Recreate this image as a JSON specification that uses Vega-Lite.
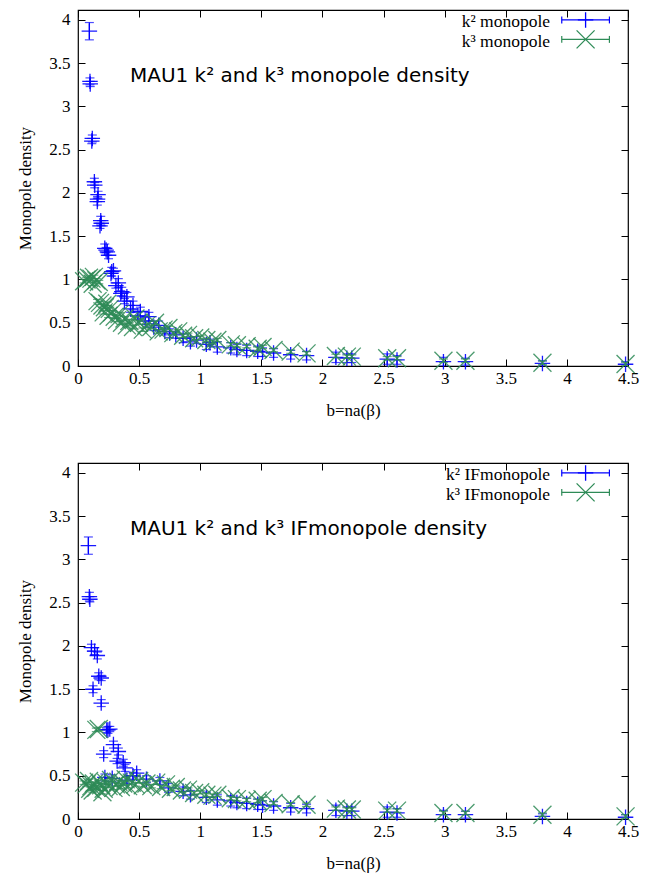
{
"$schema": "https://vega.github.io/schema/vega-lite/v6.json",
"background": "white",
"padding": {"left": 16, "top": 8, "right": 10, "bottom": 10},
"spacing": 97,
"bounds": "flush",
"config": {
  "font": "Liberation Serif",
  "view": {"stroke": "black", "strokeWidth": 1.2},
  "style": {"guide-label": {"font": "Liberation Serif", "fontSize": 17}, "guide-title": {"font": "Liberation Serif", "fontSize": 17, "fontWeight": "normal"}},
  "axis": {"grid": false, "domain": false, "tickColor": "black", "tickSize": -7, "tickWidth": 1, "labelFont": "Liberation Serif", "labelFontSize": 17, "labelColor": "black", "labelFlush": false, "labelOverlap": false, "titleFont": "Liberation Serif", "titleFontSize": 17, "titleFontWeight": "normal", "titleColor": "black"}
},
"datasets": {
 "pts": [
{"p":1,"s":"k2","b":0.093,"d":3.87,"e":0.10},{"p":1,"s":"k2","b":0.098,"d":3.29,"e":0.04},{"p":1,"s":"k2","b":0.10,"d":3.26,"e":0.03},{"p":1,"s":"k2","b":0.117,"d":2.63,"e":0.04},{"p":1,"s":"k2","b":0.113,"d":2.60,"e":0.03},{"p":1,"s":"k2","b":0.134,"d":2.13,"e":0.04},{"p":1,"s":"k2","b":0.137,"d":2.09,"e":0.03},{"p":1,"s":"k2","b":0.164,"d":1.98,"e":0.04},{"p":1,"s":"k2","b":0.158,"d":1.90,"e":0.04},{"p":1,"s":"k2","b":0.16,"d":1.93,"e":0.03},{"p":1,"s":"k2","b":0.186,"d":1.68,"e":0.05},{"p":1,"s":"k2","b":0.18,"d":1.62,"e":0.03},{"p":1,"s":"k2","b":0.19,"d":1.65,"e":0.03},{"p":1,"s":"k2","b":0.219,"d":1.36,"e":0.05},{"p":1,"s":"k2","b":0.24,"d":1.32,"e":0.04},{"p":1,"s":"k2","b":0.25,"d":1.28,"e":0.04},{"p":1,"s":"k2","b":0.23,"d":1.34,"e":0.03},{"p":1,"s":"k2","b":0.276,"d":1.09,"e":0.05},{"p":1,"s":"k2","b":0.27,"d":1.07,"e":0.03},{"p":1,"s":"k2","b":0.29,"d":1.10,"e":0.03},{"p":1,"s":"k2","b":0.33,"d":0.96,"e":0.05},{"p":1,"s":"k2","b":0.31,"d":0.93,"e":0.03},{"p":1,"s":"k2","b":0.358,"d":0.86,"e":0.05},{"p":1,"s":"k2","b":0.35,"d":0.84,"e":0.03},{"p":1,"s":"k2","b":0.40,"d":0.80,"e":0.05},{"p":1,"s":"k2","b":0.38,"d":0.75,"e":0.03},{"p":1,"s":"k2","b":0.45,"d":0.70,"e":0.05},{"p":1,"s":"k2","b":0.43,"d":0.66,"e":0.04},{"p":1,"s":"k2","b":0.51,"d":0.63,"e":0.05},{"p":1,"s":"k2","b":0.49,"d":0.58,"e":0.04},{"p":1,"s":"k2","b":0.58,"d":0.57,"e":0.05},{"p":1,"s":"k2","b":0.55,"d":0.52,"e":0.04},{"p":1,"s":"k2","b":0.66,"d":0.47,"e":0.05},{"p":1,"s":"k2","b":0.62,"d":0.45,"e":0.04},{"p":1,"s":"k2","b":0.75,"d":0.38,"e":0.05},{"p":1,"s":"k2","b":0.71,"d":0.40,"e":0.04},{"p":1,"s":"k2","b":0.80,"d":0.36,"e":0.04},{"p":1,"s":"k2","b":0.86,"d":0.32,"e":0.05},{"p":1,"s":"k2","b":0.92,"d":0.28,"e":0.05},{"p":1,"s":"k2","b":0.97,"d":0.30,"e":0.04},{"p":1,"s":"k2","b":1.05,"d":0.25,"e":0.06},{"p":1,"s":"k2","b":1.08,"d":0.27,"e":0.04},{"p":1,"s":"k2","b":1.14,"d":0.22,"e":0.06},{"p":1,"s":"k2","b":1.25,"d":0.21,"e":0.06},{"p":1,"s":"k2","b":1.30,"d":0.19,"e":0.06},{"p":1,"s":"k2","b":1.38,"d":0.18,"e":0.06},{"p":1,"s":"k2","b":1.47,"d":0.17,"e":0.06},{"p":1,"s":"k2","b":1.51,"d":0.16,"e":0.05},{"p":1,"s":"k2","b":1.60,"d":0.15,"e":0.05},{"p":1,"s":"k2","b":1.74,"d":0.13,"e":0.05},{"p":1,"s":"k2","b":1.87,"d":0.12,"e":0.05},{"p":1,"s":"k2","b":2.11,"d":0.10,"e":0.06},{"p":1,"s":"k2","b":2.20,"d":0.09,"e":0.05},{"p":1,"s":"k2","b":2.24,"d":0.09,"e":0.05},{"p":1,"s":"k2","b":2.53,"d":0.08,"e":0.06},{"p":1,"s":"k2","b":2.61,"d":0.07,"e":0.05},{"p":1,"s":"k2","b":2.99,"d":0.05,"e":0.05},{"p":1,"s":"k2","b":3.17,"d":0.05,"e":0.04},{"p":1,"s":"k2","b":3.80,"d":0.03,"e":0.03},{"p":1,"s":"k2","b":4.48,"d":0.02,"e":0.03},
{"p":1,"s":"k3","b":0.05,"d":0.98,"e":0.02},{"p":1,"s":"k3","b":0.07,"d":1.00,"e":0.02},{"p":1,"s":"k3","b":0.09,"d":1.02,"e":0.02},{"p":1,"s":"k3","b":0.11,"d":1.01,"e":0.02},{"p":1,"s":"k3","b":0.13,"d":1.03,"e":0.02},{"p":1,"s":"k3","b":0.15,"d":0.99,"e":0.02},{"p":1,"s":"k3","b":0.17,"d":0.97,"e":0.02},{"p":1,"s":"k3","b":0.12,"d":0.95,"e":0.02},{"p":1,"s":"k3","b":0.16,"d":0.75,"e":0.02},{"p":1,"s":"k3","b":0.18,"d":0.73,"e":0.02},{"p":1,"s":"k3","b":0.20,"d":0.70,"e":0.02},{"p":1,"s":"k3","b":0.22,"d":0.68,"e":0.02},{"p":1,"s":"k3","b":0.24,"d":0.72,"e":0.02},{"p":1,"s":"k3","b":0.26,"d":0.66,"e":0.02},{"p":1,"s":"k3","b":0.28,"d":0.62,"e":0.02},{"p":1,"s":"k3","b":0.21,"d":0.62,"e":0.02},{"p":1,"s":"k3","b":0.25,"d":0.58,"e":0.02},{"p":1,"s":"k3","b":0.30,"d":0.57,"e":0.02},{"p":1,"s":"k3","b":0.32,"d":0.53,"e":0.02},{"p":1,"s":"k3","b":0.34,"d":0.60,"e":0.02},{"p":1,"s":"k3","b":0.36,"d":0.50,"e":0.02},{"p":1,"s":"k3","b":0.38,"d":0.55,"e":0.02},{"p":1,"s":"k3","b":0.40,"d":0.47,"e":0.02},{"p":1,"s":"k3","b":0.42,"d":0.52,"e":0.02},{"p":1,"s":"k3","b":0.45,"d":0.45,"e":0.02},{"p":1,"s":"k3","b":0.47,"d":0.55,"e":0.02},{"p":1,"s":"k3","b":0.50,"d":0.50,"e":0.02},{"p":1,"s":"k3","b":0.53,"d":0.42,"e":0.02},{"p":1,"s":"k3","b":0.56,"d":0.47,"e":0.02},{"p":1,"s":"k3","b":0.60,"d":0.45,"e":0.02},{"p":1,"s":"k3","b":0.63,"d":0.50,"e":0.02},{"p":1,"s":"k3","b":0.66,"d":0.40,"e":0.02},{"p":1,"s":"k3","b":0.70,"d":0.42,"e":0.02},{"p":1,"s":"k3","b":0.74,"d":0.44,"e":0.02},{"p":1,"s":"k3","b":0.78,"d":0.38,"e":0.02},{"p":1,"s":"k3","b":0.82,"d":0.40,"e":0.02},{"p":1,"s":"k3","b":0.86,"d":0.35,"e":0.02},{"p":1,"s":"k3","b":0.90,"d":0.36,"e":0.02},{"p":1,"s":"k3","b":0.95,"d":0.32,"e":0.02},{"p":1,"s":"k3","b":1.00,"d":0.33,"e":0.02},{"p":1,"s":"k3","b":1.05,"d":0.30,"e":0.02},{"p":1,"s":"k3","b":1.10,"d":0.28,"e":0.02},{"p":1,"s":"k3","b":1.14,"d":0.30,"e":0.02},{"p":1,"s":"k3","b":1.25,"d":0.25,"e":0.02},{"p":1,"s":"k3","b":1.30,"d":0.24,"e":0.02},{"p":1,"s":"k3","b":1.38,"d":0.23,"e":0.02},{"p":1,"s":"k3","b":1.47,"d":0.20,"e":0.02},{"p":1,"s":"k3","b":1.51,"d":0.22,"e":0.02},{"p":1,"s":"k3","b":1.60,"d":0.185,"e":0.02},{"p":1,"s":"k3","b":1.74,"d":0.166,"e":0.02},{"p":1,"s":"k3","b":1.87,"d":0.146,"e":0.02},{"p":1,"s":"k3","b":2.11,"d":0.116,"e":0.02},{"p":1,"s":"k3","b":2.20,"d":0.108,"e":0.02},{"p":1,"s":"k3","b":2.24,"d":0.108,"e":0.02},{"p":1,"s":"k3","b":2.53,"d":0.089,"e":0.02},{"p":1,"s":"k3","b":2.61,"d":0.089,"e":0.02},{"p":1,"s":"k3","b":2.99,"d":0.061,"e":0.02},{"p":1,"s":"k3","b":3.17,"d":0.061,"e":0.02},{"p":1,"s":"k3","b":3.80,"d":0.038,"e":0.02},{"p":1,"s":"k3","b":4.48,"d":0.023,"e":0.02},
{"p":2,"s":"k2","b":0.085,"d":3.16,"e":0.10},{"p":2,"s":"k2","b":0.093,"d":2.57,"e":0.05},{"p":2,"s":"k2","b":0.097,"d":2.54,"e":0.03},{"p":2,"s":"k2","b":0.11,"d":1.98,"e":0.04},{"p":2,"s":"k2","b":0.136,"d":1.94,"e":0.04},{"p":2,"s":"k2","b":0.158,"d":1.89,"e":0.04},{"p":2,"s":"k2","b":0.17,"d":1.65,"e":0.04},{"p":2,"s":"k2","b":0.19,"d":1.63,"e":0.03},{"p":2,"s":"k2","b":0.123,"d":1.50,"e":0.04},{"p":2,"s":"k2","b":0.19,"d":1.34,"e":0.04},{"p":2,"s":"k2","b":0.245,"d":1.03,"e":0.04},{"p":2,"s":"k2","b":0.26,"d":1.04,"e":0.03},{"p":2,"s":"k2","b":0.235,"d":1.03,"e":0.03},{"p":2,"s":"k2","b":0.29,"d":0.86,"e":0.04},{"p":2,"s":"k2","b":0.33,"d":0.78,"e":0.04},{"p":2,"s":"k2","b":0.21,"d":0.75,"e":0.04},{"p":2,"s":"k2","b":0.37,"d":0.65,"e":0.04},{"p":2,"s":"k2","b":0.32,"d":0.67,"e":0.03},{"p":2,"s":"k2","b":0.385,"d":0.59,"e":0.04},{"p":2,"s":"k2","b":0.22,"d":0.48,"e":0.04},{"p":2,"s":"k2","b":0.28,"d":0.47,"e":0.04},{"p":2,"s":"k2","b":0.40,"d":0.45,"e":0.04},{"p":2,"s":"k2","b":0.45,"d":0.50,"e":0.04},{"p":2,"s":"k2","b":0.48,"d":0.53,"e":0.04},{"p":2,"s":"k2","b":0.56,"d":0.46,"e":0.04},{"p":2,"s":"k2","b":0.67,"d":0.44,"e":0.04},{"p":2,"s":"k2","b":0.74,"d":0.36,"e":0.05},{"p":2,"s":"k2","b":0.86,"d":0.32,"e":0.05},{"p":2,"s":"k2","b":0.92,"d":0.28,"e":0.05},{"p":2,"s":"k2","b":1.05,"d":0.25,"e":0.06},{"p":2,"s":"k2","b":1.14,"d":0.22,"e":0.06},{"p":2,"s":"k2","b":1.25,"d":0.21,"e":0.06},{"p":2,"s":"k2","b":1.30,"d":0.19,"e":0.06},{"p":2,"s":"k2","b":1.38,"d":0.18,"e":0.06},{"p":2,"s":"k2","b":1.47,"d":0.17,"e":0.06},{"p":2,"s":"k2","b":1.51,"d":0.16,"e":0.05},{"p":2,"s":"k2","b":1.60,"d":0.15,"e":0.05},{"p":2,"s":"k2","b":1.74,"d":0.13,"e":0.05},{"p":2,"s":"k2","b":1.87,"d":0.12,"e":0.05},{"p":2,"s":"k2","b":2.11,"d":0.10,"e":0.06},{"p":2,"s":"k2","b":2.20,"d":0.09,"e":0.05},{"p":2,"s":"k2","b":2.24,"d":0.09,"e":0.05},{"p":2,"s":"k2","b":2.53,"d":0.08,"e":0.06},{"p":2,"s":"k2","b":2.61,"d":0.07,"e":0.05},{"p":2,"s":"k2","b":2.99,"d":0.05,"e":0.05},{"p":2,"s":"k2","b":3.17,"d":0.05,"e":0.04},{"p":2,"s":"k2","b":3.80,"d":0.03,"e":0.03},{"p":2,"s":"k2","b":4.48,"d":0.02,"e":0.03},
{"p":2,"s":"k3","b":0.05,"d":0.42,"e":0.02},{"p":2,"s":"k3","b":0.07,"d":0.40,"e":0.02},{"p":2,"s":"k3","b":0.09,"d":0.44,"e":0.02},{"p":2,"s":"k3","b":0.10,"d":0.35,"e":0.02},{"p":2,"s":"k3","b":0.11,"d":0.38,"e":0.02},{"p":2,"s":"k3","b":0.12,"d":0.33,"e":0.02},{"p":2,"s":"k3","b":0.13,"d":0.41,"e":0.02},{"p":2,"s":"k3","b":0.15,"d":0.36,"e":0.02},{"p":2,"s":"k3","b":0.15,"d":1.03,"e":0.02},{"p":2,"s":"k3","b":0.17,"d":1.04,"e":0.02},{"p":2,"s":"k3","b":0.17,"d":0.43,"e":0.02},{"p":2,"s":"k3","b":0.19,"d":0.39,"e":0.02},{"p":2,"s":"k3","b":0.20,"d":0.31,"e":0.02},{"p":2,"s":"k3","b":0.21,"d":0.35,"e":0.02},{"p":2,"s":"k3","b":0.23,"d":0.42,"e":0.02},{"p":2,"s":"k3","b":0.25,"d":0.38,"e":0.02},{"p":2,"s":"k3","b":0.27,"d":0.45,"e":0.02},{"p":2,"s":"k3","b":0.29,"d":0.36,"e":0.02},{"p":2,"s":"k3","b":0.31,"d":0.40,"e":0.02},{"p":2,"s":"k3","b":0.33,"d":0.43,"e":0.02},{"p":2,"s":"k3","b":0.35,"d":0.37,"e":0.02},{"p":2,"s":"k3","b":0.37,"d":0.41,"e":0.02},{"p":2,"s":"k3","b":0.39,"d":0.46,"e":0.02},{"p":2,"s":"k3","b":0.41,"d":0.38,"e":0.02},{"p":2,"s":"k3","b":0.44,"d":0.42,"e":0.02},{"p":2,"s":"k3","b":0.47,"d":0.40,"e":0.02},{"p":2,"s":"k3","b":0.50,"d":0.44,"e":0.02},{"p":2,"s":"k3","b":0.53,"d":0.39,"e":0.02},{"p":2,"s":"k3","b":0.56,"d":0.41,"e":0.02},{"p":2,"s":"k3","b":0.60,"d":0.38,"e":0.02},{"p":2,"s":"k3","b":0.64,"d":0.42,"e":0.02},{"p":2,"s":"k3","b":0.68,"d":0.37,"e":0.02},{"p":2,"s":"k3","b":0.72,"d":0.40,"e":0.02},{"p":2,"s":"k3","b":0.76,"d":0.35,"e":0.02},{"p":2,"s":"k3","b":0.80,"d":0.37,"e":0.02},{"p":2,"s":"k3","b":0.85,"d":0.33,"e":0.02},{"p":2,"s":"k3","b":0.90,"d":0.34,"e":0.02},{"p":2,"s":"k3","b":0.95,"d":0.30,"e":0.02},{"p":2,"s":"k3","b":1.00,"d":0.31,"e":0.02},{"p":2,"s":"k3","b":1.05,"d":0.28,"e":0.02},{"p":2,"s":"k3","b":1.10,"d":0.27,"e":0.02},{"p":2,"s":"k3","b":1.14,"d":0.28,"e":0.02},{"p":2,"s":"k3","b":1.25,"d":0.24,"e":0.02},{"p":2,"s":"k3","b":1.30,"d":0.23,"e":0.02},{"p":2,"s":"k3","b":1.38,"d":0.22,"e":0.02},{"p":2,"s":"k3","b":1.47,"d":0.21,"e":0.02},{"p":2,"s":"k3","b":1.51,"d":0.23,"e":0.02},{"p":2,"s":"k3","b":1.60,"d":0.185,"e":0.02},{"p":2,"s":"k3","b":1.74,"d":0.17,"e":0.02},{"p":2,"s":"k3","b":1.87,"d":0.165,"e":0.02},{"p":2,"s":"k3","b":2.11,"d":0.12,"e":0.02},{"p":2,"s":"k3","b":2.20,"d":0.11,"e":0.02},{"p":2,"s":"k3","b":2.24,"d":0.11,"e":0.02},{"p":2,"s":"k3","b":2.53,"d":0.097,"e":0.02},{"p":2,"s":"k3","b":2.61,"d":0.097,"e":0.02},{"p":2,"s":"k3","b":2.99,"d":0.07,"e":0.02},{"p":2,"s":"k3","b":3.17,"d":0.07,"e":0.02},{"p":2,"s":"k3","b":3.80,"d":0.05,"e":0.02},{"p":2,"s":"k3","b":4.48,"d":0.03,"e":0.02}
 ],
 "one": [{"n": 1}]
},
"data": {"name": "pts"},
"vconcat": [
 {
  "width": 550, "height": 356,
  "resolve": {"axis": {"x": "independent", "y": "independent"}},
  "layer": [
   {"transform": [{"filter": "datum.p==1 && datum.s=='k2'"}],
    "mark": {"type": "errorbar", "ticks": {"size": 9}, "color": "#0000ff", "thickness": 1.2, "clip": true},
    "encoding": {"x": {"field": "b", "type": "quantitative", "scale": {"domain": [0, 4.5], "nice": false}, "axis": null}, "y": {"field": "d", "type": "quantitative", "scale": {"domain": [0, 4.115], "nice": false}, "axis": null}, "yError": {"field": "e"}}},
   {"transform": [{"filter": "datum.p==1 && datum.s=='k2'"}],
    "mark": {"type": "point", "shape": "M-1,0H1M0,-1V1", "filled": false, "size": 240, "strokeWidth": 1.3, "color": "#0000ff", "opacity": 0.9},
    "encoding": {"x": {"field": "b", "type": "quantitative", "axis": {"values": [0, 0.5, 1, 1.5, 2, 2.5, 3, 3.5, 4, 4.5], "format": "~g", "title": "b=na(β)", "labelFont": "Liberation Serif", "labelFontSize": 17, "titleFont": "Liberation Serif", "titleFontSize": 17, "titleFontWeight": "normal", "labelPadding": 11, "titlePadding": 16}}, "y": {"field": "d", "type": "quantitative", "axis": {"values": [0, 0.5, 1, 1.5, 2, 2.5, 3, 3.5, 4], "format": "~g", "title": "Monopole density", "labelFont": "Liberation Serif", "labelFontSize": 17, "titleFont": "Liberation Serif", "titleFontSize": 17, "titleFontWeight": "normal", "labelPadding": 15, "titlePadding": 14}}}},
   {"transform": [{"filter": "datum.p==1 && datum.s=='k3'"}],
    "mark": {"type": "errorbar", "ticks": {"size": 9}, "color": "#2e8b57", "thickness": 1.2, "clip": true},
    "encoding": {"x": {"field": "b", "type": "quantitative", "axis": null}, "y": {"field": "d", "type": "quantitative", "axis": null}, "yError": {"field": "e"}}},
   {"transform": [{"filter": "datum.p==1 && datum.s=='k3'"}],
    "mark": {"type": "point", "shape": "M-1,-1L1,1M-1,1L1,-1", "filled": false, "size": 324, "strokeWidth": 1.3, "color": "#2e8b57", "opacity": 0.85},
    "encoding": {"x": {"field": "b", "type": "quantitative", "axis": null}, "y": {"field": "d", "type": "quantitative", "axis": null}}},
   {"data": {"name": "one"},
    "mark": {"type": "text", "text": "MAU1 k² and k³ monopole density", "font": "DejaVu Sans", "fontSize": 20, "align": "left", "baseline": "middle", "color": "black"},
    "encoding": {"x": {"datum": 0.425, "type": "quantitative", "axis": null}, "y": {"datum": 3.35, "type": "quantitative", "axis": null}}},
   {"data": {"name": "one"},
    "mark": {"type": "text", "text": "k² monopole", "font": "Liberation Serif", "fontSize": 17.5, "align": "right", "baseline": "middle", "color": "black"},
    "encoding": {"x": {"datum": 3.862, "type": "quantitative", "axis": null}, "y": {"datum": 3.971, "type": "quantitative", "axis": null}}},
   {"data": {"name": "one"},
    "mark": {"type": "text", "text": "k³ monopole", "font": "Liberation Serif", "fontSize": 17.5, "align": "right", "baseline": "middle", "color": "black"},
    "encoding": {"x": {"datum": 3.862, "type": "quantitative", "axis": null}, "y": {"datum": 3.746, "type": "quantitative", "axis": null}}},
   {"data": {"name": "one"}, "mark": {"type": "rule", "color": "#0000ff", "strokeWidth": 1.2},
    "encoding": {"x": {"datum": 3.958, "type": "quantitative", "axis": null}, "x2": {"datum": 4.348}, "y": {"datum": 4.0, "type": "quantitative", "axis": null}}},
   {"data": {"name": "one"}, "mark": {"type": "rule", "color": "#0000ff", "strokeWidth": 1.2},
    "encoding": {"x": {"datum": 3.958, "type": "quantitative", "axis": null}, "y": {"datum": 3.96, "type": "quantitative", "axis": null}, "y2": {"datum": 4.04}}},
   {"data": {"name": "one"}, "mark": {"type": "rule", "color": "#0000ff", "strokeWidth": 1.2},
    "encoding": {"x": {"datum": 4.348, "type": "quantitative", "axis": null}, "y": {"datum": 3.96, "type": "quantitative", "axis": null}, "y2": {"datum": 4.04}}},
   {"data": {"name": "one"}, "mark": {"type": "point", "shape": "M-1,0H1M0,-1V1", "filled": false, "size": 240, "strokeWidth": 1.3, "color": "#0000ff", "opacity": 1},
    "encoding": {"x": {"datum": 4.153, "type": "quantitative", "axis": null}, "y": {"datum": 4.0, "type": "quantitative", "axis": null}}},
   {"data": {"name": "one"}, "mark": {"type": "rule", "color": "#2e8b57", "strokeWidth": 1.2},
    "encoding": {"x": {"datum": 3.958, "type": "quantitative", "axis": null}, "x2": {"datum": 4.348}, "y": {"datum": 3.775, "type": "quantitative", "axis": null}}},
   {"data": {"name": "one"}, "mark": {"type": "rule", "color": "#2e8b57", "strokeWidth": 1.2},
    "encoding": {"x": {"datum": 3.958, "type": "quantitative", "axis": null}, "y": {"datum": 3.735, "type": "quantitative", "axis": null}, "y2": {"datum": 3.815}}},
   {"data": {"name": "one"}, "mark": {"type": "rule", "color": "#2e8b57", "strokeWidth": 1.2},
    "encoding": {"x": {"datum": 4.348, "type": "quantitative", "axis": null}, "y": {"datum": 3.735, "type": "quantitative", "axis": null}, "y2": {"datum": 3.815}}},
   {"data": {"name": "one"}, "mark": {"type": "point", "shape": "M-1,-1L1,1M-1,1L1,-1", "filled": false, "size": 324, "strokeWidth": 1.3, "color": "#2e8b57", "opacity": 1},
    "encoding": {"x": {"datum": 4.153, "type": "quantitative", "axis": null}, "y": {"datum": 3.775, "type": "quantitative", "axis": null}}},
   {"transform": [{"filter": "datum.p==1"}],
    "mark": {"type": "point", "opacity": 0},
    "encoding": {"x": {"field": "b", "type": "quantitative", "axis": {"orient": "top", "labels": false, "title": null, "values": [0, 0.5, 1, 1.5, 2, 2.5, 3, 3.5, 4, 4.5]}}, "y": {"field": "d", "type": "quantitative", "axis": {"orient": "right", "labels": false, "title": null, "values": [0, 0.5, 1, 1.5, 2, 2.5, 3, 3.5, 4]}}}}
  ]
 },
 {
  "width": 550, "height": 356,
  "resolve": {"axis": {"x": "independent", "y": "independent"}},
  "layer": [
   {"transform": [{"filter": "datum.p==2 && datum.s=='k2'"}],
    "mark": {"type": "errorbar", "ticks": {"size": 9}, "color": "#0000ff", "thickness": 1.2, "clip": true},
    "encoding": {"x": {"field": "b", "type": "quantitative", "scale": {"domain": [0, 4.5], "nice": false}, "axis": null}, "y": {"field": "d", "type": "quantitative", "scale": {"domain": [0, 4.115], "nice": false}, "axis": null}, "yError": {"field": "e"}}},
   {"transform": [{"filter": "datum.p==2 && datum.s=='k2'"}],
    "mark": {"type": "point", "shape": "M-1,0H1M0,-1V1", "filled": false, "size": 240, "strokeWidth": 1.3, "color": "#0000ff", "opacity": 0.9},
    "encoding": {"x": {"field": "b", "type": "quantitative", "axis": {"values": [0, 0.5, 1, 1.5, 2, 2.5, 3, 3.5, 4, 4.5], "format": "~g", "title": "b=na(β)", "labelFont": "Liberation Serif", "labelFontSize": 17, "titleFont": "Liberation Serif", "titleFontSize": 17, "titleFontWeight": "normal", "labelPadding": 11, "titlePadding": 16}}, "y": {"field": "d", "type": "quantitative", "axis": {"values": [0, 0.5, 1, 1.5, 2, 2.5, 3, 3.5, 4], "format": "~g", "title": "Monopole density", "labelFont": "Liberation Serif", "labelFontSize": 17, "titleFont": "Liberation Serif", "titleFontSize": 17, "titleFontWeight": "normal", "labelPadding": 15, "titlePadding": 14}}}},
   {"transform": [{"filter": "datum.p==2 && datum.s=='k3'"}],
    "mark": {"type": "errorbar", "ticks": {"size": 9}, "color": "#2e8b57", "thickness": 1.2, "clip": true},
    "encoding": {"x": {"field": "b", "type": "quantitative", "axis": null}, "y": {"field": "d", "type": "quantitative", "axis": null}, "yError": {"field": "e"}}},
   {"transform": [{"filter": "datum.p==2 && datum.s=='k3'"}],
    "mark": {"type": "point", "shape": "M-1,-1L1,1M-1,1L1,-1", "filled": false, "size": 324, "strokeWidth": 1.3, "color": "#2e8b57", "opacity": 0.85},
    "encoding": {"x": {"field": "b", "type": "quantitative", "axis": null}, "y": {"field": "d", "type": "quantitative", "axis": null}}},
   {"data": {"name": "one"},
    "mark": {"type": "text", "text": "MAU1 k² and k³ IFmonopole density", "font": "DejaVu Sans", "fontSize": 20, "align": "left", "baseline": "middle", "color": "black"},
    "encoding": {"x": {"datum": 0.425, "type": "quantitative", "axis": null}, "y": {"datum": 3.35, "type": "quantitative", "axis": null}}},
   {"data": {"name": "one"},
    "mark": {"type": "text", "text": "k² IFmonopole", "font": "Liberation Serif", "fontSize": 17.5, "align": "right", "baseline": "middle", "color": "black"},
    "encoding": {"x": {"datum": 3.862, "type": "quantitative", "axis": null}, "y": {"datum": 3.971, "type": "quantitative", "axis": null}}},
   {"data": {"name": "one"},
    "mark": {"type": "text", "text": "k³ IFmonopole", "font": "Liberation Serif", "fontSize": 17.5, "align": "right", "baseline": "middle", "color": "black"},
    "encoding": {"x": {"datum": 3.862, "type": "quantitative", "axis": null}, "y": {"datum": 3.746, "type": "quantitative", "axis": null}}},
   {"data": {"name": "one"}, "mark": {"type": "rule", "color": "#0000ff", "strokeWidth": 1.2},
    "encoding": {"x": {"datum": 3.958, "type": "quantitative", "axis": null}, "x2": {"datum": 4.348}, "y": {"datum": 4.0, "type": "quantitative", "axis": null}}},
   {"data": {"name": "one"}, "mark": {"type": "rule", "color": "#0000ff", "strokeWidth": 1.2},
    "encoding": {"x": {"datum": 3.958, "type": "quantitative", "axis": null}, "y": {"datum": 3.96, "type": "quantitative", "axis": null}, "y2": {"datum": 4.04}}},
   {"data": {"name": "one"}, "mark": {"type": "rule", "color": "#0000ff", "strokeWidth": 1.2},
    "encoding": {"x": {"datum": 4.348, "type": "quantitative", "axis": null}, "y": {"datum": 3.96, "type": "quantitative", "axis": null}, "y2": {"datum": 4.04}}},
   {"data": {"name": "one"}, "mark": {"type": "point", "shape": "M-1,0H1M0,-1V1", "filled": false, "size": 240, "strokeWidth": 1.3, "color": "#0000ff", "opacity": 1},
    "encoding": {"x": {"datum": 4.153, "type": "quantitative", "axis": null}, "y": {"datum": 4.0, "type": "quantitative", "axis": null}}},
   {"data": {"name": "one"}, "mark": {"type": "rule", "color": "#2e8b57", "strokeWidth": 1.2},
    "encoding": {"x": {"datum": 3.958, "type": "quantitative", "axis": null}, "x2": {"datum": 4.348}, "y": {"datum": 3.775, "type": "quantitative", "axis": null}}},
   {"data": {"name": "one"}, "mark": {"type": "rule", "color": "#2e8b57", "strokeWidth": 1.2},
    "encoding": {"x": {"datum": 3.958, "type": "quantitative", "axis": null}, "y": {"datum": 3.735, "type": "quantitative", "axis": null}, "y2": {"datum": 3.815}}},
   {"data": {"name": "one"}, "mark": {"type": "rule", "color": "#2e8b57", "strokeWidth": 1.2},
    "encoding": {"x": {"datum": 4.348, "type": "quantitative", "axis": null}, "y": {"datum": 3.735, "type": "quantitative", "axis": null}, "y2": {"datum": 3.815}}},
   {"data": {"name": "one"}, "mark": {"type": "point", "shape": "M-1,-1L1,1M-1,1L1,-1", "filled": false, "size": 324, "strokeWidth": 1.3, "color": "#2e8b57", "opacity": 1},
    "encoding": {"x": {"datum": 4.153, "type": "quantitative", "axis": null}, "y": {"datum": 3.775, "type": "quantitative", "axis": null}}},
   {"transform": [{"filter": "datum.p==2"}],
    "mark": {"type": "point", "opacity": 0},
    "encoding": {"x": {"field": "b", "type": "quantitative", "axis": {"orient": "top", "labels": false, "title": null, "values": [0, 0.5, 1, 1.5, 2, 2.5, 3, 3.5, 4, 4.5]}}, "y": {"field": "d", "type": "quantitative", "axis": {"orient": "right", "labels": false, "title": null, "values": [0, 0.5, 1, 1.5, 2, 2.5, 3, 3.5, 4]}}}}
  ]
 }
]
}
